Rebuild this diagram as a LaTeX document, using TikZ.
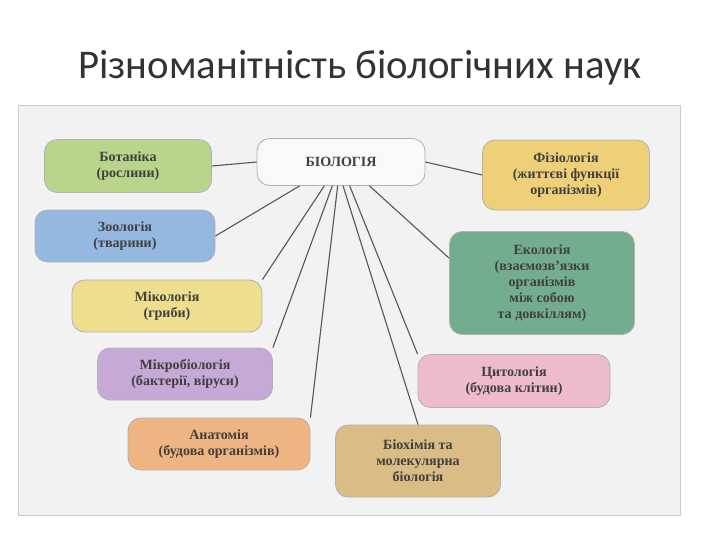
\documentclass[tikz,border=0pt]{standalone}
\usepackage{fontspec}
\setmainfont{Liberation Serif}
\newfontfamily\titlefont{Carlito}
\definecolor{cbot}{HTML}{B9D58C}
\definecolor{czoo}{HTML}{94B8E0}
\definecolor{cmyc}{HTML}{EEDF8E}
\definecolor{cmic}{HTML}{C6A9D6}
\definecolor{cana}{HTML}{EEB482}
\definecolor{cbch}{HTML}{D9BC86}
\definecolor{ccyt}{HTML}{EEBBCC}
\definecolor{ceco}{HTML}{72AE8E}
\definecolor{cphy}{HTML}{EFD078}
\begin{document}
\begin{tikzpicture}[x=0.025cm,y=-0.025cm,
  box/.style={draw=gray!60, line width=0.6pt, rounded corners=9pt, align=center, inner sep=2pt,
     font=\fontsize{10}{11.5}\selectfont\bfseries, text=black!75},
  link/.style={draw=black!65, line width=0.8pt}]
\useasboundingbox (0,0) rectangle (720,540);
\fill[white] (0,0) rectangle (720,540);
\node[font=\titlefont\fontsize{29}{32}\selectfont, text=black!80] (title) at (360,68) {Різноманітність біологічних наук};
\fill[gray!10] (18,105) rectangle (680,515);
\draw[gray!40] (18,105) rectangle (680,515);
\node[box, fill=gray!5, minimum width=168*0.025cm, minimum height=47*0.025cm] (bio) at (341,162) {БІОЛОГІЯ};
\node[box, fill=cbot, minimum width=167*0.025cm, minimum height=53*0.025cm] (bot) at (128,166) {Ботаніка\\(рослини)};
\node[box, fill=czoo, minimum width=180*0.025cm, minimum height=52*0.025cm] (zoo) at (125,236) {Зоологія\\(тварини)};
\node[box, fill=cmyc, minimum width=190*0.025cm, minimum height=52*0.025cm] (myc) at (167,306) {Мікологія\\(гриби)};
\node[box, fill=cmic, minimum width=175*0.025cm, minimum height=52*0.025cm] (mic) at (185,374) {Мікробіологія\\(бактерії, віруси)};
\node[box, fill=cana, minimum width=182*0.025cm, minimum height=52*0.025cm] (ana) at (219,444) {Анатомія\\(будова організмів)};
\node[box, fill=cbch, minimum width=165*0.025cm, minimum height=72*0.025cm] (bch) at (418,461) {Біохімія та\\молекулярна\\біологія};
\node[box, fill=ccyt, minimum width=192*0.025cm, minimum height=53*0.025cm] (cyt) at (514,381) {Цитологія\\(будова клітин)};
\node[box, fill=ceco, minimum width=185*0.025cm, minimum height=103*0.025cm] (eco) at (542,283) {Екологія\\(взаємозв'язки\\організмів\\між собою\\та довкіллям)};
\node[box, fill=cphy, minimum width=167*0.025cm, minimum height=70*0.025cm] (phy) at (566,175) {Фізіологія\\(життєві функції\\організмів)};
\draw[link] (bio.west) -- (bot.east);
\draw[link] (bio.east) -- (phy.west);
\draw[link] (bio.210) -- (zoo.east);
\draw[link] (bio.235) -- (myc.north east);
\draw[link] (bio.250) -- (mic.north east);
\draw[link] (bio.262) -- (ana.north east);
\draw[link] (bio.275) -- (bch.north);
\draw[link] (bio.290) -- (cyt.north west);
\draw[link] (bio.320) -- (eco.165);
\end{tikzpicture}
\end{document}
